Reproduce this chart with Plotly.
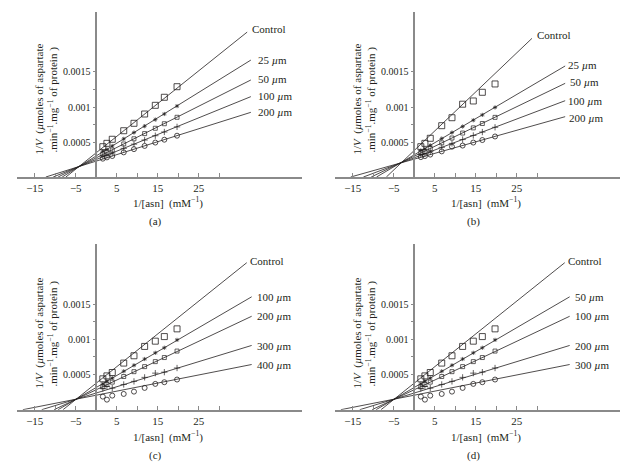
import plotly.graph_objects as go

W, H = 637, 468

# ---------------- data ----------------
XPTS = [1.6, 2.6, 3.9, 6.7, 9.2, 11.8, 14.4, 16.6, 19.7]

# panel (a)
labels_a = ["Control", "25 <i>µ</i>m", "50 <i>µ</i>m", "100 <i>µ</i>m", "200 <i>µ</i>m"]
ctrl_a = [0.000433, 0.000481, 0.000539, 0.000661, 0.000767, 0.000900, 0.001024, 0.001139, 0.001290]
s25_a = [0.000370, 0.000392, 0.000443, 0.000545, 0.000635, 0.000726, 0.000820, 0.000900, 0.001013]
s50_a = [0.000330, 0.000355, 0.000385, 0.000472, 0.000546, 0.000620, 0.000696, 0.000761, 0.000853]
s100_a = [0.000300, 0.000310, 0.000343, 0.000409, 0.000469, 0.000528, 0.000590, 0.000643, 0.000716]
s200_a = [0.000262, 0.000280, 0.000300, 0.000352, 0.000398, 0.000444, 0.000492, 0.000533, 0.000590]
line_x0_a = [-7.4, -8.3, -9.3, -10.5, -12.3]
line_x1_a = [36.8, 37.7, 37.7, 37.7, 37.7]
line_y1_a = [0.00207, 0.00167, 0.001386, 0.001148, 0.000924]

# panel (b)
labels_b = ["Control", "25 <i>µ</i>m", "50 <i>µ</i>m", "100 <i>µ</i>m", "200 <i>µ</i>m"]
ctrl_b = [0.000433, 0.000481, 0.000553, 0.000733, 0.000847, 0.001040, 0.001086, 0.001210, 0.001329]
s25_b = [0.000380, 0.000400, 0.000452, 0.000549, 0.000635, 0.000721, 0.000811, 0.000887, 0.000994]
s50_b = [0.000350, 0.000365, 0.000408, 0.000487, 0.000557, 0.000628, 0.000702, 0.000764, 0.000852]
s100_b = [0.000320, 0.000330, 0.000362, 0.000424, 0.000480, 0.000535, 0.000593, 0.000642, 0.000710]
s200_b = [0.000284, 0.000299, 0.000320, 0.000366, 0.000433, 0.000449, 0.000492, 0.000528, 0.000579]
line_x0_b = [-6.8, -9.2, -10.5, -12.4, -15.5]
line_x1_b = [28.7, 36.8, 36.8, 36.8, 36.8]
line_y1_b = [0.00198, 0.001586, 0.001338, 0.00109, 0.000862]

# panel (c)
labels_c = ["Control", "100 <i>µ</i>m", "200 <i>µ</i>m", "300 <i>µ</i>m", "400 <i>µ</i>m"]
ctrl_c = [0.000439, 0.000481, 0.000529, 0.000663, 0.000767, 0.000900, 0.000975, 0.001040, 0.001150]
s100_c = [0.000367, 0.000408, 0.000449, 0.000547, 0.000632, 0.000721, 0.000809, 0.000881, 0.000993]
s200_c = [0.000326, 0.000359, 0.000392, 0.000472, 0.000541, 0.000613, 0.000684, 0.000742, 0.000834]
s300_c = [0.000300, 0.000330, 0.000307, 0.000359, 0.000403, 0.000460, 0.000520, 0.000534, 0.000593]
s400_c = [0.000186, 0.000143, 0.000200, 0.000224, 0.000257, 0.000310, 0.000367, 0.000391, 0.000429]
line_x0_c = [-8.1, -9.3, -10.3, -13.3, -17.9]
line_x1_c = [36.7, 37.9, 37.9, 37.9, 37.9]
line_y1_c = [0.002091, 0.001606, 0.001329, 0.000914, 0.000643]

# panel (d)
labels_d = ["Control", "50 <i>µ</i>m", "100 <i>µ</i>m", "200 <i>µ</i>m", "300 <i>µ</i>m"]
ctrl_d = [0.000439, 0.000481, 0.000529, 0.000663, 0.000767, 0.000900, 0.000975, 0.001040, 0.001150]
s50_d = [0.000367, 0.000408, 0.000449, 0.000547, 0.000632, 0.000721, 0.000809, 0.000881, 0.000993]
s100_d = [0.000326, 0.000359, 0.000392, 0.000472, 0.000541, 0.000613, 0.000684, 0.000742, 0.000834]
s200_d = [0.000300, 0.000330, 0.000307, 0.000359, 0.000403, 0.000460, 0.000520, 0.000534, 0.000593]
s300_d = [0.000186, 0.000143, 0.000200, 0.000224, 0.000257, 0.000310, 0.000367, 0.000391, 0.000429]
line_x0_d = [-8.1, -9.3, -10.3, -13.3, -17.9]
line_x1_d = [36.7, 37.9, 37.9, 37.9, 37.9]
line_y1_d = [0.002091, 0.001606, 0.001329, 0.000914, 0.000643]

XTICKS = [-15, -5, 5, 15, 25]
XTICKTEXT = ["−15", "−5", "5", "15", "25"]
XMINOR = [-10, 10, 20, 30]
YTICKS = [0.0005, 0.001, 0.0015]
YTICKTEXT = ["0.0005", "0.001", "0.0015"]
YMINOR = [0.00075, 0.00125]
CAPTIONS = ["(a)", "(b)", "(c)", "(d)"]

# ---------------- styling ----------------
INK = "#231f20"
AXC = "#8a8a8a"
SERIF = "Liberation Serif, Times New Roman, serif"
XR = [-19.4, 50.1]
YR = [0, 0.002357]
SYMS = ["square-open", "asterisk-open", "square-open", "cross-thin-open", "circle-open"]
SIZES = [6, 3.5, 4, 4.5, 5]
MLW = [0.8, 0.7, 0.7, 0.7, 0.8]

panels = [
    dict(series=[ctrl_a, s25_a, s50_a, s100_a, s200_a], labels=labels_a,
         x0=line_x0_a, x1=line_x1_a, y1=line_y1_a),
    dict(series=[ctrl_b, s25_b, s50_b, s100_b, s200_b], labels=labels_b,
         x0=line_x0_b, x1=line_x1_b, y1=line_y1_b),
    dict(series=[ctrl_c, s100_c, s200_c, s300_c, s400_c], labels=labels_c,
         x0=line_x0_c, x1=line_x1_c, y1=line_y1_c),
    dict(series=[ctrl_d, s50_d, s100_d, s200_d, s300_d], labels=labels_d,
         x0=line_x0_d, x1=line_x1_d, y1=line_y1_d),
]

# pixel layout of each panel: (x-axis left px, x-axis right px, top px, x-axis px)
boxes = [(16.7, 301.7, 12, 177), (334.7, 619.7, 12, 177),
         (16.7, 301.7, 244, 409.7), (334.7, 619.7, 244, 409.7)]

# label pixel positions (left edge px, centre y px)
label_pos = [
    [(250, 29), (256, 60), (256, 79), (256, 96), (256, 112)],
    [(534.7, 35), (566, 65), (568, 82), (566, 101), (567, 118)],
    [(248.3, 260.7), (255, 296.7), (255, 316.3), (255, 345.7), (255, 364.7)],
    [(566.3, 260.7), (573, 296.7), (573, 316.3), (573, 345.7), (573, 364.7)],
]

fig = go.Figure()
annotations = []


def px(x):
    return x / W


def py(y):
    return 1 - y / H


for i, p in enumerate(panels):
    n = i + 1
    xa = "x" if n == 1 else f"x{n}"
    ya = "y" if n == 1 else f"y{n}"
    xl, xr, yt, yb = boxes[i]
    dom_x = [px(xl), px(xr)]
    dom_y = [py(yb), py(yt)]
    ypos = dom_x[0] + (0 - XR[0]) / (XR[1] - XR[0]) * (dom_x[1] - dom_x[0])

    for k in range(5):
        fig.add_trace(go.Scatter(
            x=[p["x0"][k], p["x1"][k]],
            y=[0, p["y1"][k]],
            mode="lines", line=dict(color=INK, width=0.8),
            xaxis=xa, yaxis=ya, showlegend=False, hoverinfo="skip"))
        fig.add_trace(go.Scatter(
            x=XPTS, y=p["series"][k], mode="markers",
            marker=dict(symbol=SYMS[k], size=SIZES[k], color=INK,
                        line=dict(color=INK, width=MLW[k])),
            xaxis=xa, yaxis=ya, showlegend=False))

    xkey = "xaxis" if n == 1 else f"xaxis{n}"
    ykey = "yaxis" if n == 1 else f"yaxis{n}"
    fig.update_layout({
        xkey: dict(domain=dom_x, anchor=ya, range=XR, showgrid=False, zeroline=False,
                   showline=True, linecolor=AXC, linewidth=1.5,
                   ticks="inside", ticklen=4, tickcolor=AXC, tickwidth=1,
                   tickvals=XTICKS, ticktext=XTICKTEXT,
                   minor=dict(tickvals=XMINOR, ticks="inside", ticklen=4,
                              tickcolor=AXC, tickwidth=1, showgrid=False),
                   tickfont=dict(family=SERIF, size=11, color=INK)),
        ykey: dict(domain=dom_y, anchor="free", position=ypos, range=YR,
                   showgrid=False, zeroline=False,
                   showline=True, linecolor=AXC, linewidth=1.5,
                   ticks="outside", ticklen=3, tickcolor=AXC, tickwidth=1,
                   tickvals=YTICKS, ticktext=YTICKTEXT,
                   minor=dict(tickvals=YMINOR, ticks="outside", ticklen=3,
                              tickcolor=AXC, tickwidth=1, showgrid=False),
                   tickfont=dict(family=SERIF, size=10, color=INK)),
    })

    # line labels
    for k in range(5):
        lx, ly = label_pos[i][k]
        annotations.append(dict(x=px(lx), y=py(ly), xref="paper", yref="paper",
                                text=p["labels"][k], showarrow=False,
                                xanchor="left", yanchor="middle",
                                font=dict(family=SERIF, size=11, color=INK)))

    ox = 0 if i % 2 == 0 else 318
    oy = 0 if i < 2 else 234
    # y-axis title (two rotated lines)
    annotations.append(dict(x=px(39 + ox), y=py(99.5 + oy), xref="paper", yref="paper",
                            text="1/<i>V</i>  (<i>µ</i>moles of aspartate",
                            textangle=-90, showarrow=False,
                            xanchor="center", yanchor="middle",
                            font=dict(family=SERIF, size=11, color=INK)))
    annotations.append(dict(x=px(53 + ox), y=py(99.5 + oy), xref="paper", yref="paper",
                            text=".min<sup>−1</sup>.mg<sup>−1</sup> of protein )",
                            textangle=-90, showarrow=False,
                            xanchor="center", yanchor="middle",
                            font=dict(family=SERIF, size=11, color=INK)))
    # x-axis title
    annotations.append(dict(x=px(168 + ox), y=py(202 + oy), xref="paper", yref="paper",
                            text="1/[asn]  (mM<sup>−1</sup>)", showarrow=False,
                            xanchor="center", yanchor="middle",
                            font=dict(family=SERIF, size=11, color=INK)))
    # caption
    annotations.append(dict(x=px(155 + ox), y=py(221 + oy), xref="paper", yref="paper",
                            text=CAPTIONS[i], showarrow=False,
                            xanchor="center", yanchor="middle",
                            font=dict(family=SERIF, size=11, color=INK)))

fig.update_layout(
    width=W, height=H,
    margin=dict(l=0, r=0, t=0, b=0),
    paper_bgcolor="white", plot_bgcolor="white",
    annotations=annotations,
    showlegend=False,
)

fig.write_html("out.html",
               config={"displayModeBar": False},
               post_script="document.body.style.margin='0';document.body.style.padding='0';")
